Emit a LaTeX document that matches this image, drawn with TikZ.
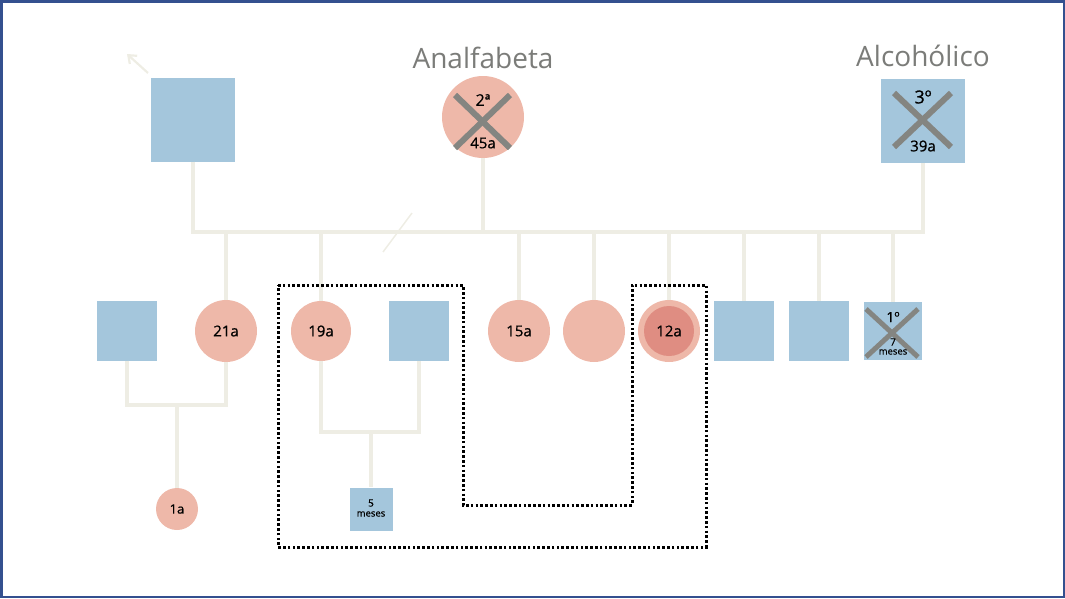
\documentclass[tikz,border=0pt]{standalone}
\usepackage{fontspec}
\setmainfont{Open Sans}
\newfontfamily\lblfont[FakeBold=0.7]{Open Sans}
\usetikzlibrary{arrows.meta}
\definecolor{pblue}{HTML}{A4C6DC}
\definecolor{ppink}{HTML}{EEB8A9}
\definecolor{pdark}{HTML}{DF8D82}
\definecolor{pline}{HTML}{EEEDE4}
\definecolor{pgrey}{HTML}{848581}
\definecolor{ptext}{HTML}{7B7C79}
\definecolor{pframe}{HTML}{34508F}
\tikzset{
  male/.style={rectangle, fill=pblue, minimum size=#1, inner sep=0pt},
  female/.style={circle, fill=ppink, minimum size=#1, inner sep=0pt},
  lnk/.style={draw=pline, line width=4pt},
  cross/.style={draw=pgrey, line width=#1},
  cross/.default=6pt,
  lbl/.style={font=\lblfont\fontsize{#1}{#1}\selectfont, text=black, inner sep=0pt},
  lbl/.default=15,
  title/.style={font=\fontsize{28}{28}\selectfont, text=ptext, inner sep=0pt},
  dotbox/.style={draw=black, line width=3pt, dash pattern=on 2.6pt off 2.2pt}
}
\begin{document}
\begin{tikzpicture}[x=1pt,y=-1pt]
\useasboundingbox (0,0) rectangle (1065,598);
\draw[pframe, line width=2.5pt] (1.25,1.25) rectangle (1063.75,596.75);

% generation 1
\node[male=84] (gf) at (193,119.5) {};
\node[female=82] (gm) at (483,117) {};
\node[male=84] (sf) at (922.5,121) {};
\node[title] (t1) at (483,58) {Analfabeta};
\node[title] (t2) at (923,56) {Alcohólico};

% crosses gen 1
\draw[cross] ([shift={(-28,-22)}]gm.center) -- ([shift={(27,31)}]gm.center);
\draw[cross] ([shift={(27,-22)}]gm.center) -- ([shift={(-28,31)}]gm.center);
\draw[cross] ([shift={(-28.5,-28)}]sf.center) -- ([shift={(28.5,26)}]sf.center);
\draw[cross] ([shift={(28.5,-28)}]sf.center) -- ([shift={(-28.5,26)}]sf.center);
\node[lbl=16] (gml1) at (483,100) {2ª};
\node[lbl=15] (gml2) at (483,143) {45a};
\node[lbl=18] (sfl1) at (923,97) {3º};
\node[lbl=15] (sfl2) at (923,146) {39a};

% arrow
\coordinate (arrtail) at (148,73);
\coordinate (arrtip) at (127,54);
\draw[pline, line width=2.2pt, -{Straight Barb[length=7pt,width=11pt]}] (arrtail) -- (arrtip);

% generation 2
\node[male=60] (s1) at (126.5,330.5) {};
\node[female=62] (d21) at (226,331) {};
\node[female=60] (d19) at (321,331) {};
\node[male=60] (s2) at (419,330.5) {};
\node[female=62] (d15) at (519,331) {};
\node[female=62] (d0) at (594,331) {};
\node[female=62] (d12) at (669,331) {};
\node[circle, fill=pdark, minimum size=50, inner sep=0pt] (d12in) at (d12.center) {};
\node[male=60] (s3) at (744,331) {};
\node[male=60] (s4) at (819,331) {};
\node[male=58] (s5) at (893,331) {};
\draw[cross=5pt] ([shift={(-27,-22)}]s5.center) -- ([shift={(25,26)}]s5.center);
\draw[cross=5pt] ([shift={(25,-22)}]s5.center) -- ([shift={(-27,26)}]s5.center);

\node[lbl] at (d21) {21a};
\node[lbl] at (d19) {19a};
\node[lbl] at (d15) {15a};
\node[lbl] at (d12) {12a};
\node[lbl=14] (s5l1) at (893,317) {1º};
\node[lbl=10] (s5l2) at (893,342) {7};
\node[lbl=9.5] (s5l3) at (893,352) {meses};

% generation 3
\node[female=42] (g1) at (177,509) {};
\node[male=43] (g2) at (371,509) {};
\node[lbl=13] at (g1) {1a};
\node[lbl=10] (g2l1) at (371,503) {5};
\node[lbl=9.5] (g2l2) at (371,514) {meses};

% sibship line
\coordinate (bar) at (0,232);
\draw[lnk] (gf.south) -- (gf.south |- bar) -- (sf.south |- bar) -- (sf.south);
\draw[lnk] (gm.south) -- (gm.south |- bar);
\foreach \n in {d21,d19,d15,d0,d12,s3,s4,s5} {
  \draw[lnk] (\n.north) -- (\n.north |- bar);
}
\draw[pline, line width=1.5pt] (383,252) -- (412,213);

% couples
\coordinate (c1) at (177,405);
\draw[lnk] (s1.south) |- (c1) -| (d21.south);
\draw[lnk] (c1) -- (g1.north);
\coordinate (c2) at (371,432);
\draw[lnk] (d19.south) |- (c2) -| (s2.south);
\draw[lnk] (c2) -- (g2.north);

% dotted household boundary
\draw[dotbox] (278,285) -- (463,285) -- (463,505) -- (632,505) -- (632,285) -- (706,285) -- (706,547) -- (278,547) -- cycle;
\end{tikzpicture}
\end{document}
